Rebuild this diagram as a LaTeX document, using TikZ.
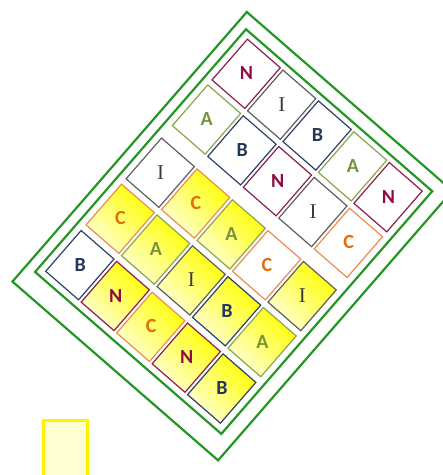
\documentclass[tikz,border=0pt]{standalone}
\usepackage{fontspec}
\setsansfont{Carlito}
\newfontfamily\serifI{Liberation Serif}
\definecolor{frameG}{RGB}{35,150,35}
\definecolor{colN}{RGB}{145,10,65}
\definecolor{bdN}{RGB}{140,30,80}
\definecolor{colB}{RGB}{35,55,90}
\definecolor{bdB}{RGB}{45,65,100}
\definecolor{colA}{RGB}{119,147,60}
\definecolor{bdA}{RGB}{140,165,75}
\definecolor{colC}{RGB}{228,108,10}
\definecolor{bdC}{RGB}{235,140,80}
\definecolor{colI}{RGB}{60,60,60}
\definecolor{bdI}{RGB}{95,95,95}
\definecolor{paleY}{RGB}{255,255,215}
\definecolor{boxfill}{RGB}{255,255,212}
\tikzset{
  frame/.style={draw=frameG, line width=2.2pt, line join=miter},
  tile/.style={line width=1.2pt},
  wfill/.style={fill=white},
  yfill/.style={top color=yellow, bottom color=paleY, shading angle=-45},
  sfont/.style={font=\sffamily\bfseries\fontsize{20}{20}\selectfont},
  txtN/.style={sfont, text=colN},
  txtB/.style={sfont, text=colB},
  txtA/.style={sfont, text=colA},
  txtC/.style={sfont, text=colC},
  txtI/.style={font=\serifI\fontsize{21}{21}\selectfont, text=colI},
  legendbox/.style={draw=yellow, line width=3pt, fill=boxfill}
}
\begin{document}
\begin{tikzpicture}[x=1pt,y=-1pt]
\useasboundingbox (0,0) rectangle (443,475);
\clip (0,0) rectangle (443,475);
\begin{scope}[shift={(246pt,-29.3pt)}, x={(0.7547pt,-0.6561pt)}, y={(-0.6561pt,-0.7547pt)}]
  % frames
  \coordinate (o1) at (-10.75,-13.6);
  \coordinate (o2) at (261.75,-13.6);
  \coordinate (o3) at (261.75,343.6);
  \coordinate (o4) at (-10.75,343.6);
  \coordinate (i1) at (0,0);
  \coordinate (i2) at (246.8,0);
  \coordinate (i3) at (246.8,321.5);
  \coordinate (i4) at (0,321.5);
  \draw[frame] (o1) -- (o2) -- (o3) -- (o4) -- cycle;
  \draw[frame] (i1) -- (i2) -- (i3) -- (i4) -- cycle;
  % tiles: column/row/letter/kind/fill
  \foreach \c/\r/\L/\k/\f in {
    1/1/N/N/wfill, 2/1/I/I/wfill, 3/1/B/B/wfill, 4/1/A/A/wfill, 5/1/N/N/wfill,
    1/2/A/A/wfill, 2/2/B/B/wfill, 3/2/N/N/wfill, 4/2/I/I/wfill, 5/2/C/C/wfill,
    1/3/I/I/wfill, 2/3/C/C/yfill, 3/3/A/A/yfill, 4/3/C/C/wfill, 5/3/I/I/yfill,
    1/4/C/C/yfill, 2/4/A/A/yfill, 3/4/I/I/yfill, 4/4/B/B/yfill, 5/4/A/A/yfill,
    1/5/B/B/wfill, 2/5/N/N/yfill, 3/5/C/C/yfill, 4/5/N/N/yfill, 5/5/B/B/yfill}
  {
    \pgfmathsetmacro\uu{7.6+47*(\c-1)}
    \pgfmathsetmacro\vv{{6.5,67,137.5,198.5,260}[\r-1]}
    \path[tile, draw=bd\k, \f] (\uu,\vv) -- ++(43.5,0) -- ++(0,54) -- ++(-43.5,0) -- cycle;
    \node[txt\k] (t\r\c) at (\uu+21.75,\vv+26.5) {\L};
  }
\end{scope}
\path[legendbox] (43.2,420.5) rectangle (87.8,480);
\end{tikzpicture}
\end{document}
